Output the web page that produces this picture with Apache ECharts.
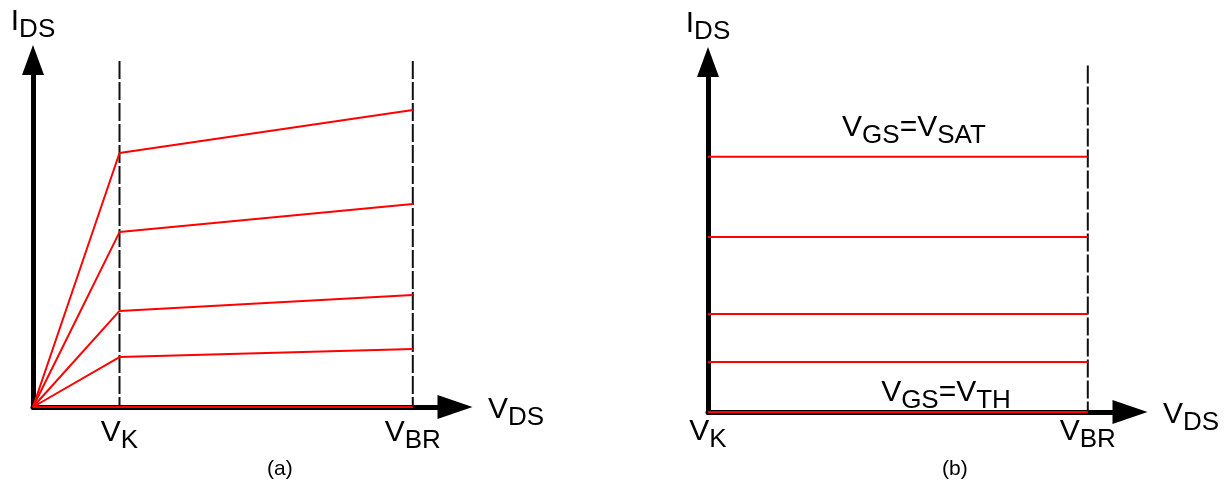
<!DOCTYPE html>
<html>
<head>
<meta charset="utf-8">
<script src="https://cdn.jsdelivr.net/npm/echarts@6/dist/echarts.min.js"></script>
<style>
html,body{margin:0;padding:0;background:#fff;}
#chart{width:1230px;height:493px;}
</style>
</head>
<body>
<div id="chart"></div>
<script>
// ---------- data (arbitrary units: V on x, I on y) ----------
const VK_A = 20.5;            // knee voltage, panel (a)
const VK_B = 0;               // knee voltage, panel (b)
const VBR = 90;               // breakdown voltage
const kneeCurrentA = [73.2, 50.4, 27.7, 14.4, 0];   // I_DS at V_K, panel (a)
const brCurrentA   = [85.6, 58.5, 32.3, 16.7, 0];   // I_DS at V_BR, panel (a)
const levelsB      = [72.9, 50.0, 28.0, 14.3, 0];   // I_DS levels, panel (b)
const dashTopA = 99.7, dashTopB = 99;
const tickValuesA = [VK_A, VBR];
const tickValuesB = [VK_B, VBR];
const tickLabels = [['V', 'K'], ['V', 'BR']];
const xName = ['V', 'DS'];
const yName = ['I', 'DS'];
const satLabel = ['V', 'GS', '=V', 'SAT'];
const thLabel  = ['V', 'GS', '=V', 'TH'];
const captions = ['(a)', '(b)'];

// ---------- styling ----------
const FONT = 'Liberation Sans';
const RED = '#f00';
const RICH = {
  v: {fontSize: 30, lineHeight: 30, verticalAlign: 'top', color: '#000', fontFamily: FONT},
  s: {fontSize: 26, lineHeight: 26, verticalAlign: 'top', padding: [10, 0, 0, 0], color: '#000', fontFamily: FONT}
};
function rt(parts) {
  return parts.map((p, i) => (i % 2 === 0 ? '{v|' : '{s|') + p + '}').join('');
}

function xAxisFor(gridIndex, ticks, margin) {
  return {
    type: 'value', gridIndex, min: 0, max: 100,
    name: rt(xName), nameLocation: 'end', nameGap: 33, nameMoveOverlap: false,
    nameTextStyle: {rich: RICH, padding: [6, 0, 0, 0]},
    axisLine: {show: true, lineStyle: {color: '#000', width: 5}, symbol: ['none', 'triangle'], symbolSize: [24, 35], symbolOffset: [0, 0]},
    axisTick: {show: false},
    splitLine: {show: false},
    axisLabel: {
      show: true, customValues: ticks, margin,
      formatter: v => rt(tickLabels[ticks.indexOf(v)]), rich: RICH
    }
  };
}
function yAxisFor(gridIndex, gap) {
  return {
    type: 'value', gridIndex, min: 0, max: 100,
    name: rt(yName), nameLocation: 'end', nameGap: gap, nameMoveOverlap: false,
    nameTextStyle: {rich: RICH},
    axisLine: {show: true, lineStyle: {color: '#000', width: 5}, symbol: ['none', 'triangle'], symbolSize: [22, 30], symbolOffset: [0, 0]},
    axisTick: {show: false}, splitLine: {show: false}, axisLabel: {show: false}
  };
}
function dashed(xi, yi, x, top) {
  return {
    type: 'line', xAxisIndex: xi, yAxisIndex: yi, data: [[x, top], [x, 0]],
    symbol: 'none', silent: true, clip: false, z: 3,
    lineStyle: {color: '#111', width: 2, type: [18, 3]}
  };
}
function redLine(xi, yi, pts, extra) {
  return Object.assign({
    type: 'line', xAxisIndex: xi, yAxisIndex: yi, data: pts,
    symbol: 'none', silent: true, clip: false, z: 4,
    lineStyle: {color: RED, width: 2}
  }, extra || {});
}
function textMark(x, y, parts, dist) {
  return {
    symbol: 'circle', symbolSize: 1, silent: true,
    itemStyle: {color: 'transparent'},
    data: [{coord: [x, y], label: {show: true, position: 'top', distance: dist, formatter: rt(parts), rich: RICH}}]
  };
}

const series = [];
// panel (a)
series.push(dashed(0, 0, VK_A, dashTopA));
series.push(dashed(0, 0, VBR, dashTopA));
kneeCurrentA.forEach((k, i) => {
  series.push(redLine(0, 0, [[0, 0], [VK_A, k], [VBR, brCurrentA[i]]]));
});
// panel (b)
series.push(dashed(1, 1, VBR, dashTopB));
levelsB.forEach((lv, i) => {
  const extra = {};
  if (i === 0) extra.markPoint = textMark(48.8, lv, satLabel, 14);
  if (i === levelsB.length - 1) extra.markPoint = textMark(56.4, lv, thLabel, 4);
  series.push(redLine(1, 1, [[VK_B, lv], [VBR, lv]], extra));
});

const capStyle = {fontSize: 21, fontWeight: 'normal', color: '#000', fontFamily: FONT};
const option = {
  animation: false,
  backgroundColor: '#fff',
  textStyle: {fontFamily: FONT},
  title: [
    {text: captions[0], left: 267, top: 459, padding: 0, textStyle: capStyle},
    {text: captions[1], left: 942, top: 459, padding: 0, textStyle: capStyle}
  ],
  grid: [
    {left: 33, top: 60, width: 422, height: 347, containLabel: false, outerBoundsMode: 'none'},
    {left: 708, top: 62, width: 422, height: 350, containLabel: false, outerBoundsMode: 'none'}
  ],
  xAxis: [xAxisFor(0, tickValuesA, 11), xAxisFor(1, tickValuesB, 5)],
  yAxis: [yAxisFor(0, 23), yAxisFor(1, 23)],
  series
};
const chart = echarts.init(document.getElementById('chart'), null, {renderer: 'canvas'});
chart.setOption(option);
</script>
</body>
</html>
